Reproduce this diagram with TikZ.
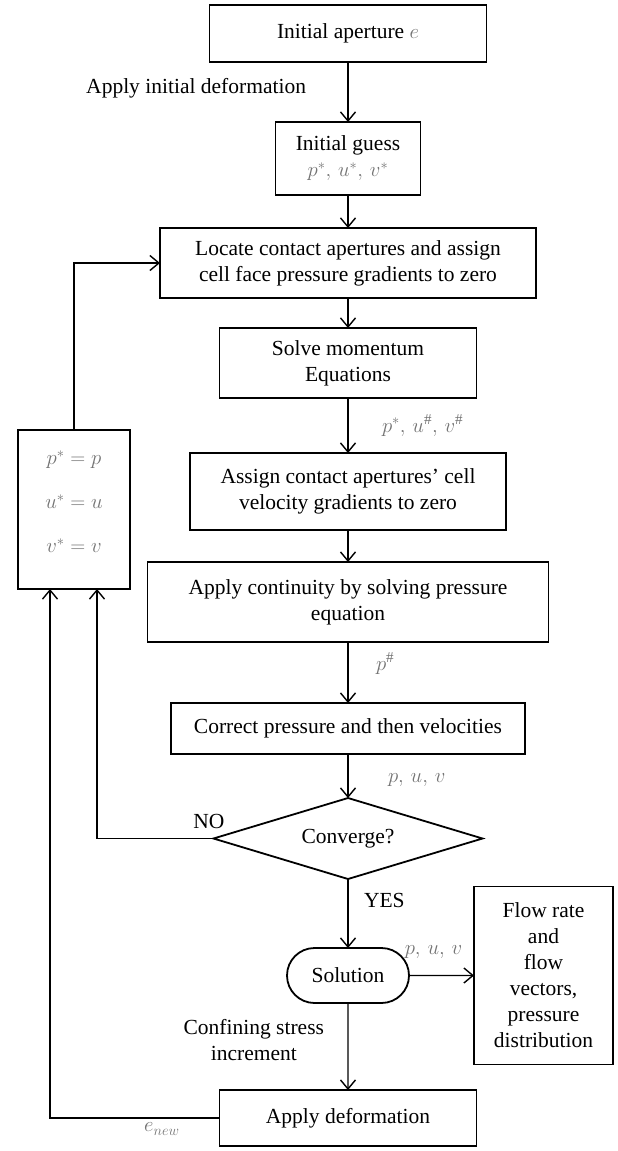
\documentclass[tikz,border=0pt]{standalone}
\usepackage{fontspec}
\setmainfont{Liberation Serif}
\usetikzlibrary{shapes.geometric, shapes.misc, positioning, arrows.meta}

\colorlet{mathgray}{black!55}
\newcommand{\gm}[1]{\textcolor{mathgray}{$#1$}}

\begin{document}
\begin{tikzpicture}[
		x=1pt, y=-1pt,
		font=\fontsize{21.5}{26}\selectfont,
		box/.style={draw, rectangle, line width=1.8pt, outer sep=0pt, align=center, inner sep=4pt},
		decision/.style={draw, diamond, line width=1.8pt, outer sep=0pt, aspect=3.3, inner sep=0pt},
		terminal/.style={draw, rounded rectangle, line width=1.8pt, outer sep=0pt, inner sep=4pt},
		arrow/.style={-{Straight Barb[length=9pt, width=15pt]}, line width=1.4pt}
		]
		\useasboundingbox (0,0) rectangle (618,1151);
		
		% Nodes
		\node[box, minimum width=277pt, minimum height=57pt] (init) at (348,33.5) {Initial aperture \gm{e}};
		
		\node[box, minimum width=145pt, minimum height=73pt, below=60pt of init] (guess) {Initial guess\\\gm{p^*,\,u^*,\,v^*}};
		
		\node[box, minimum width=376pt, minimum height=70pt, below=33pt of guess] (locate) {Locate contact apertures and assign\\cell face pressure gradients to zero};
		
		\node[box, minimum width=257pt, minimum height=70pt, below=30pt of locate] (solve) {Solve momentum\\Equations};
		
		\node[box, minimum width=316pt, minimum height=77pt, below=55pt of solve] (assign) {Assign contact apertures’ cell\\velocity gradients to zero};
		
		\node[box, minimum width=401pt, minimum height=80pt, below=32pt of assign] (cont) {Apply continuity by solving pressure\\equation};
		
		\node[box, minimum width=354pt, minimum height=51pt, below=61pt of cont] (correct) {Correct pressure and then velocities};
		
		\node[decision, minimum width=269pt, minimum height=81pt, below=44pt of correct] (conv) {Converge?};
		
		\node[terminal, minimum width=130pt, minimum height=55pt, below=69pt of conv] (sol) {Solution};
		
		\node[box, minimum width=257pt, minimum height=56pt, below=87pt of sol] (apply) {Apply deformation};
		
		\node[box, minimum width=139pt, minimum height=178pt, right=65pt of sol] (output) {Flow rate\\and\\flow\\vectors,\\pressure\\distribution};
		
		\node[box, minimum width=112pt, minimum height=159pt, text depth=16pt, left=60pt of assign, yshift=-18pt] (update) {\gm{p^*=p}\\[18pt]\gm{u^*=u}\\[18pt]\gm{v^*=v}};
		
		% Arrows
		\draw[arrow] (init) -- node[left=38pt, yshift=4pt] {Apply initial deformation} (guess);
		\draw[arrow] (guess) -- (locate);
		\draw[arrow] (locate) -- (solve);
		\draw[arrow] (solve) -- node[right=30pt] {\gm{p^*,\,u^{\#},\,v^{\#}}} (assign);
		\draw[arrow] (assign) -- (cont);
		\draw[arrow] (cont) -- node[right=24pt, yshift=9pt] {\gm{p^{\#}}} (correct);
		\draw[arrow] (correct) -- node[right=36pt, yshift=-4pt] {\gm{p,\,u,\,v}} (conv);
		\draw[arrow] (conv) -- node[right=12pt, yshift=13pt] {YES} (sol);
		\draw[arrow] (sol) -- node[above=13pt, xshift=-8pt] {\gm{p,\,u,\,v}} (output);
		\draw[arrow] (sol) -- node[left=20pt, align=center, yshift=6pt] {Confining stress\\increment} (apply);
		
		% Feedback loops
		\draw[arrow] (conv.west) -| node[pos=0.02, above=6pt] {NO} ([xshift=23pt]update.south);
		\draw[arrow] (apply.west) -| node[pos=0.17, below=1pt] {\gm{e_{new}}} ([xshift=-24pt]update.south);
		\draw[arrow] (update.north) |- (locate.west);
		
	\end{tikzpicture}
\end{document}
